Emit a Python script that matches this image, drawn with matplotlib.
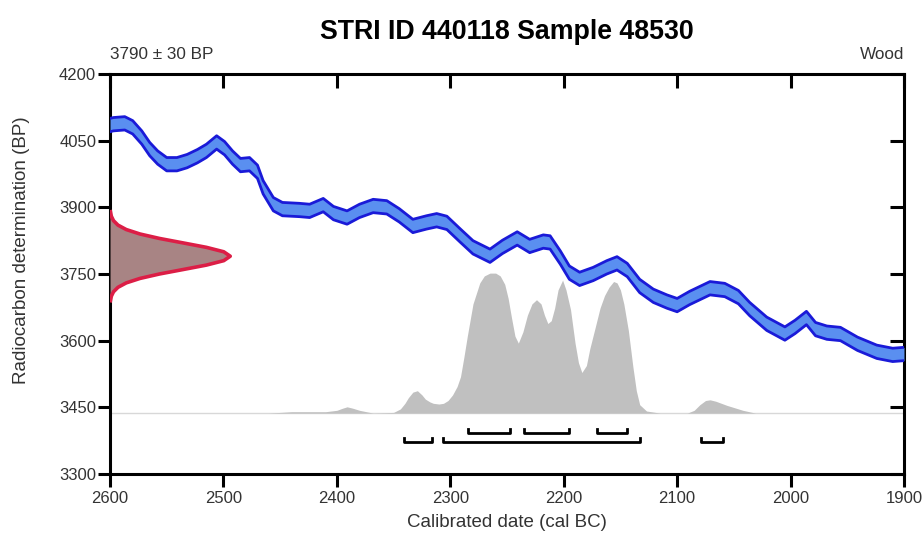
import matplotlib.pyplot as plt
import numpy as np

plt.rcParams['font.family'] = ['Liberation Sans', 'DejaVu Sans']

# calibration curve (centre of 1 sigma band)
curve_cal = [2600, 2597, 2587, 2580, 2572, 2565, 2558, 2550, 2541, 2532, 2523, 2515,
             2506, 2499, 2492, 2485, 2477, 2470, 2465, 2456, 2448, 2433, 2424, 2412,
             2403, 2391, 2380, 2368, 2356, 2345, 2333, 2321, 2312, 2303, 2291, 2280,
             2265, 2254, 2241, 2230, 2218, 2212, 2203, 2195, 2186, 2174, 2162, 2153,
             2144, 2133, 2121, 2109, 2100, 2089, 2071, 2058, 2046, 2036, 2021, 2005,
             1996, 1986, 1978, 1968, 1956, 1941, 1924, 1910, 1900]
curve_bp = [4085, 4087, 4089, 4080, 4057, 4031, 4012, 3997, 3997, 4004, 4015, 4027,
            4046, 4033, 4012, 3995, 3997, 3980, 3945, 3907, 3896, 3894, 3892, 3905,
            3887, 3877, 3892, 3903, 3900, 3882, 3858, 3866, 3871, 3865, 3836, 3810,
            3791, 3811, 3830, 3813, 3823, 3821, 3787, 3753, 3739, 3750, 3765, 3774,
            3759, 3723, 3701, 3688, 3680, 3696, 3718, 3714, 3698, 3671, 3638, 3616,
            3631, 3651, 3626, 3618, 3615, 3593, 3575, 3568, 3570]
curve_sigma = 15

# measurement 3790 +/- 30 BP, relative density
meas_bp = [3690, 3700, 3710, 3720, 3730, 3740, 3750, 3760, 3770, 3780, 3790,
           3800, 3810, 3820, 3830, 3840, 3850, 3860, 3870, 3880, 3890]
meas_dens = [0.004, 0.011, 0.029, 0.066, 0.135, 0.249, 0.411, 0.607, 0.801, 0.946, 1.0,
             0.946, 0.801, 0.607, 0.411, 0.249, 0.135, 0.066, 0.029, 0.011, 0.004]

# calibrated probability, relative
prob_cal = [2460, 2440, 2410, 2400, 2395, 2391, 2386, 2380, 2368, 2350, 2344, 2340,
            2337, 2333, 2329, 2325, 2322, 2318, 2315, 2310, 2306, 2302, 2298, 2294,
            2291, 2288, 2285, 2280, 2274, 2270, 2265, 2260, 2256, 2252, 2249, 2246,
            2243, 2240, 2236, 2232, 2228, 2224, 2220, 2217, 2214, 2211, 2208, 2205,
            2201, 2198, 2194, 2190, 2187, 2184, 2180, 2177, 2172, 2168, 2164, 2160,
            2156, 2153, 2150, 2147, 2143, 2139, 2136, 2133, 2127, 2115, 2091, 2085,
            2080, 2075, 2071, 2066, 2056, 2042, 2031]
prob = [0.0, 0.01, 0.01, 0.02, 0.035, 0.045, 0.035, 0.02, 0.0, 0.005, 0.03, 0.07,
        0.11, 0.15, 0.16, 0.13, 0.10, 0.08, 0.07, 0.065, 0.07, 0.09, 0.13, 0.19,
        0.26, 0.40, 0.55, 0.78, 0.93, 0.98, 1.0, 1.0, 0.98, 0.92, 0.82, 0.68,
        0.55, 0.50, 0.58, 0.70, 0.78, 0.81, 0.78, 0.70, 0.64, 0.66, 0.75, 0.88,
        0.95, 0.88, 0.74, 0.50, 0.36, 0.29, 0.34, 0.46, 0.62, 0.75, 0.84, 0.90,
        0.94, 0.93, 0.88, 0.78, 0.59, 0.33, 0.16, 0.06, 0.015, 0.0, 0.0, 0.02,
        0.06, 0.09, 0.095, 0.085, 0.055, 0.02, 0.0]

# ranges (cal BC)
range68 = [(2284, 2247), (2235, 2195), (2171, 2144)]
range95 = [(2341, 2316), (2306, 2133), (2079, 2060)]

fig = plt.figure(figsize=(9.23, 5.4), dpi=100)
ax = fig.add_axes([0.1192, 0.1222, 0.8602, 0.7408])

base = 3437
scale = 315
ax.axhline(base, color='#d8d8d8', lw=1, zorder=1)
ax.fill_between(prob_cal, base, base + np.array(prob) * scale, color='#c0c0c0', lw=0, zorder=2)

cx = np.array(curve_cal)
cy = np.array(curve_bp)
ax.fill_between(cx, cy - curve_sigma, cy + curve_sigma, color='#5a8ff0', lw=0, zorder=3)
ax.plot(cx, cy + curve_sigma, color='#1a1ad8', lw=2, zorder=4, solid_joinstyle='round')
ax.plot(cx, cy - curve_sigma, color='#1a1ad8', lw=2, zorder=4, solid_joinstyle='round')

mx = 2600 - np.array(meas_dens) * 106
ax.fill_betweenx(meas_bp, 2600, mx, color='#a88484', lw=0, zorder=3)
ax.plot(mx, meas_bp, color='#dc1e46', lw=2.6, zorder=4)

for rows, yb in ((range68, 3392), (range95, 3372)):
    for a, b in rows:
        ax.plot([a, a, b, b], [yb + 9, yb, yb, yb + 9], color='black', lw=2, zorder=4)

ax.set_xlim(2600, 1900)
ax.set_ylim(3300, 4200)
ax.set_xticks(range(2600, 1899, -100))
ax.set_yticks(range(3300, 4201, 150))
for s in ax.spines.values():
    s.set_linewidth(2.2)
ax.tick_params(axis='both', which='major', width=2.2, length=9, labelsize=12,
               colors='black', labelcolor='#333333', top=True, right=True)
ax.tick_params(axis='x', pad=3)
ax.tick_params(axis='y', pad=1)
# inward ticks on top/right
for t in ax.xaxis.get_major_ticks():
    t.tick2line.set_marker(3)
    t.tick2line.set_markersize(10)
for t in ax.yaxis.get_major_ticks():
    t.tick2line.set_marker(0)
    t.tick2line.set_markersize(10)

ax.set_xlabel('Calibrated date (cal BC)', fontsize=13.5, color='#333333', va='center')
ax.xaxis.set_label_coords(0.5, -0.12)
ax.set_ylabel('Radiocarbon determination (BP)', fontsize=13.5, color='#333333', va='center')
ax.yaxis.set_label_coords(-0.111, 0.56)
ax.set_title('STRI ID 440118 Sample 48530', fontsize=19.3, fontweight='bold', pad=25)
ax.text(0, 1.03, '3790 ± 30 BP', transform=ax.transAxes, fontsize=12.3, color='#333333',
        ha='left', va='bottom')
ax.text(1, 1.03, 'Wood', transform=ax.transAxes, fontsize=12.3, color='#333333',
        ha='right', va='bottom')

fig.savefig('out.png', dpi=100)
